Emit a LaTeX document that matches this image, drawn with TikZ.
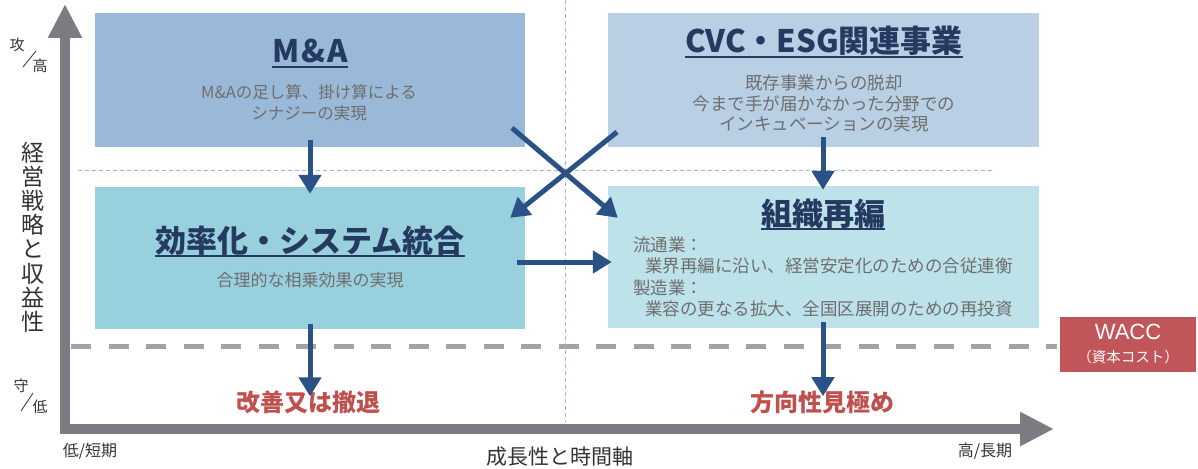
\documentclass[tikz,border=0pt]{standalone}
\usepackage{fontspec}
\setmainfont{Noto Sans CJK JP}
\newfontfamily\wacfont{Liberation Sans}
\usetikzlibrary{arrows.meta}
\definecolor{axisgray}{HTML}{7B7C81}
\definecolor{dashgray}{HTML}{A2A3A7}
\definecolor{guideblue}{HTML}{9AB8DC}
\definecolor{arrowblue}{HTML}{2B5287}
\definecolor{navy}{HTML}{243A60}
\definecolor{subgray}{HTML}{6E6E6E}
\definecolor{labred}{HTML}{C0504D}
\definecolor{waccred}{HTML}{C0555A}
\definecolor{boxma}{HTML}{9AB8D8}
\definecolor{boxcvc}{HTML}{B9CFE4}
\definecolor{boxeff}{HTML}{98D0DE}
\definecolor{boxorg}{HTML}{BDE2EA}
\tikzset{
  qbox/.style={inner sep=0pt, draw=none, minimum width=430pt},
  qtitle/.style={inner sep=0pt, anchor=base, text=navy, font=\fontsize{31}{36}\selectfont\bfseries},
  uline/.style={navy, line width=2.2pt},
  subtxt/.style={inner sep=0pt, text=subgray, align=center, font=\fontsize{17}{21}\selectfont},
  flow/.style={arrowblue, line width=5pt, -{Triangle[length=19pt,width=22pt]}},
  axis/.style={axisgray, line width=10pt, line join=miter},
  redlab/.style={inner sep=0pt, text=labred, font=\fontsize{24}{28}\selectfont\bfseries},
  axlab/.style={inner sep=0pt, text=black!80, font=\fontsize{16}{18}\selectfont},
  smallax/.style={inner sep=0pt, text=black!80, font=\fontsize{15}{17}\selectfont},
}
\begin{document}
\begin{tikzpicture}[x=1pt,y=-1pt]
\useasboundingbox (0,0) rectangle (1198,468);

% guide lines
\draw[guideblue, line width=1pt, dash pattern=on 4pt off 3pt] (565,0) -- (565,422);

% boxes
\node[qbox, fill=boxma, minimum height=134pt] (ma) at (310,80) {};
\node[qbox, fill=boxcvc, minimum width=431pt, minimum height=134pt] (cvc) at (823.5,80) {};
\node[qbox, fill=boxeff, minimum height=142pt] (eff) at (310,258) {};
\node[qbox, fill=boxorg, minimum width=431pt, minimum height=142pt] (org) at (823.5,257) {};

\draw[guideblue, line width=1pt, dash pattern=on 4pt off 3pt] (78,170) -- (992,170);

% WACC line
\draw[dashgray, line width=5pt, dash pattern=on 20pt off 17.5pt] (71,346) -- (1057,346);
\node[inner sep=0pt, fill=waccred, minimum width=136pt, minimum height=55pt] (wacc) at (1128,344.5) {};
\node[inner sep=0pt, text=white, font=\wacfont\fontsize{22}{24}\selectfont] (wacct) at (1128,332) {WACC};
\node[inner sep=0pt, text=white, font=\fontsize{14.5}{16}\selectfont] (waccs) at (1128,357) {（資本コスト）};

% axes
\coordinate (top) at (65,4);
\coordinate (origin) at (65,429);
\coordinate (right) at (1054,429);
\draw[axis, {Triangle[length=34pt,width=32pt]}-{Triangle[length=34pt,width=32pt]}] (top) -- (origin) -- (right);

% titles
\node[qtitle] (t1) at (310,63) {M\kern2pt\&\kern2pt A};
\draw[uline] ([yshift=-4pt]t1.base west) -- ([yshift=-4pt]t1.base east);
\node[qtitle] (t2) at (824,53) {CVC・ESG関連事業};
\draw[uline] ([yshift=-4pt]t2.base west) -- ([yshift=-4pt]t2.base east);
\node[qtitle] (t3) at (310,252) {効率化・システム統合};
\draw[uline] ([yshift=-4pt]t3.base west) -- ([yshift=-4pt]t3.base east);
\node[qtitle] (t4) at (823,225) {組織再編};
\draw[uline] ([yshift=-4pt]t4.base west) -- ([yshift=-4pt]t4.base east);

% subtexts
\node[subtxt, font=\fontsize{16.5}{21}\selectfont] (s1) at (309,103) {M\&Aの足し算、掛け算による\\シナジーの実現};
\node[subtxt, font=\fontsize{17.5}{20.5}\selectfont] (s2) at (824,103.5) {既存事業からの脱却\\今まで手が届かなかった分野での\\インキュベーションの実現};
\node[subtxt] (s3) at (310,280) {合理的な相乗効果の実現};
\node[subtxt, align=left, anchor=west, font=\fontsize{17.5}{21.5}\selectfont] (s4) at (633,277) {流通業：\\\hspace*{12pt}業界再編に沿い、経営安定化のための合従連衡\\製造業：\\\hspace*{12pt}業容の更なる拡大、全国区展開のための再投資};

% results
\node[redlab] (r1) at (308,402) {改善又は撤退};
\node[redlab] (r2) at (822,402) {方向性見極め};

% flow arrows
\draw[flow] ([yshift=7pt]ma.south) -- ([yshift=-7pt]eff.north);
\draw[flow] ([xshift=-0.5pt,yshift=10pt]cvc.south) -- ([xshift=-0.5pt,yshift=-4pt]org.north);
\coordinate (c1s) at (512,128);
\coordinate (c2s) at (617,132);
\draw[flow] (c1s) -- ([xshift=10pt,yshift=-32pt]org.north west);
\draw[flow] (c2s) -- ([xshift=-15pt,yshift=-31pt]eff.north east);
\draw[flow] ([xshift=-8pt,yshift=-4pt]eff.east) -- ([xshift=4pt,yshift=-5pt]org.west);
\draw[flow] ([yshift=5pt]eff.south) -- ([yshift=-6pt]r1.north -| eff.south);
\draw[flow] ([xshift=-0.5pt,yshift=6pt]org.south) -- ([xshift=-0.5pt,yshift=-6pt]r2.north -| org.south);

% axis labels
\node[inner sep=0pt, text=black!80, align=center, font=\fontsize{23}{24.2}\selectfont] (vlab) at (33,237) {経\\営\\戦\\略\\と\\収\\益\\性};
\node[smallax] (k1) at (17,45) {攻};
\node[smallax] (k2) at (40,66) {高};
\draw[black!75, line width=0.9pt] (23,67) -- (36,51);
\node[smallax] (m1) at (21,386) {守};
\node[smallax] (m2) at (40,407) {低};
\draw[black!75, line width=0.9pt] (21,411) -- (33,393);
\node[axlab] (lo) at (90,451) {低/短期};
\node[axlab] (hi) at (985,451) {高/長期};
\node[inner sep=0pt, text=black!80, font=\fontsize{21}{23}\selectfont] (xlab) at (560,457) {成長性と時間軸};
\end{tikzpicture}
\end{document}
